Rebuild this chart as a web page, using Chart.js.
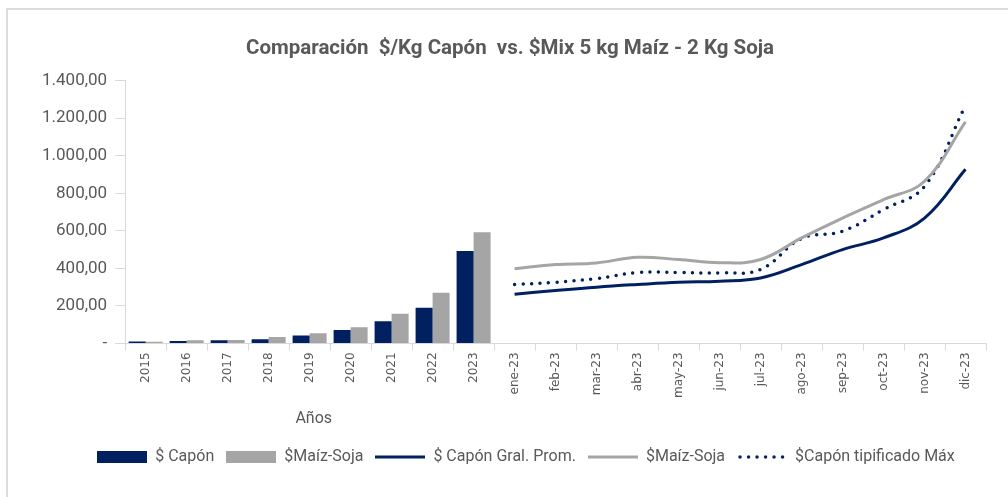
<!DOCTYPE html>
<html>
<head>
<meta charset="utf-8">
<script src="https://cdn.jsdelivr.net/npm/chart.js@4"></script>
<style>
  body { margin: 0; background: #fff; }
  #wrap { position: relative; width: 1008px; height: 497px; }
  #frame { position: absolute; left: 6px; top: 8px; right: 0; bottom: 0;
           border-top: 2px solid #dcdcdc; border-left: 2px solid #dcdcdc; pointer-events: none; }
</style>
</head>
<body>
<div id="wrap">
  <canvas id="chart" width="1008" height="497"></canvas>
  <div id="frame"></div>
</div>
<script>
// categorias: años + meses 2023
const years = ['2015', '2016', '2017', '2018', '2019', '2020', '2021', '2022', '2023'];
const months = ['ene-23', 'feb-23', 'mar-23', 'abr-23', 'may-23', 'jun-23',
                'jul-23', 'ago-23', 'sep-23', 'oct-23', 'nov-23', 'dic-23'];
const categories = years.concat(months);

// barras anuales
const caponAnual = [11, 13, 17, 23, 43, 72, 118, 190, 492];
const maizSojaAnual = [9, 17, 18, 34, 54, 87, 158, 270, 592];

// lineas mensuales
const caponProm = [262, 282, 300, 314, 326, 332, 349, 420, 500, 562, 668, 928];
const maizSojaMes = [398, 420, 429, 459, 447, 430, 447, 562, 668, 766, 864, 1180];
const caponMax = [314, 326, 346, 378, 378, 376, 394, 559, 598, 713, 837, 1268];

const yTicks = [0, 200, 400, 600, 800, 1000, 1200, 1400];

const navy = '#002060';
const gris = '#a5a5a5';
const texto = '#595959';
const fuente = '"Roboto", "Liberation Sans"';

const padYears = new Array(years.length).fill(null);
const padMonths = new Array(months.length).fill(null);

function fmt(v) {
  if (v === 0) return '-';
  const ent = Math.floor(v).toString().replace(/\B(?=(\d{3})+(?!\d))/g, '.');
  return ent + ',00';
}

// simbolos de leyenda (caja para barras, trazo para lineas)
function simbolo(tipo, color) {
  const c = document.createElement('canvas');
  c.width = 50; c.height = 12;
  const g = c.getContext('2d');
  if (tipo === 'caja') {
    g.fillStyle = color;
    g.fillRect(0, 0, 50, 12);
  } else {
    g.strokeStyle = color;
    g.lineWidth = 3;
    if (tipo === 'puntos') {
      g.lineCap = 'round';
      g.lineWidth = 3.5;
      g.setLineDash([0, 8.5]);
      g.beginPath(); g.moveTo(3, 6); g.lineTo(50, 6); g.stroke();
    } else {
      g.beginPath(); g.moveTo(0, 6); g.lineTo(50, 6); g.stroke();
    }
  }
  return c;
}

// "Años" debajo del bloque de años; leyenda algo corrida a la derecha
const aniosLabel = {
  id: 'aniosLabel',
  afterLayout(chart) {
    chart.legend.left += 16;
    chart.legend.right += 16;
  },
  afterDraw(chart) {
    const ctx = chart.ctx;
    const x = chart.scales.x.getPixelForValue(4.1);
    ctx.save();
    ctx.font = '16px ' + fuente;
    ctx.fillStyle = texto;
    ctx.textAlign = 'center';
    ctx.textBaseline = 'middle';
    ctx.fillText('Años', x, 419);
    ctx.restore();
  }
};

new Chart(document.getElementById('chart'), {
  data: {
    labels: categories,
    datasets: [
      { type: 'bar', label: '$ Capón', data: caponAnual.concat(padMonths),
        backgroundColor: navy, pointStyle: simbolo('caja', navy) },
      { type: 'bar', label: '$Maíz-Soja', data: maizSojaAnual.concat(padMonths),
        backgroundColor: gris, pointStyle: simbolo('caja', gris) },
      { type: 'line', label: '$ Capón Gral. Prom.', data: padYears.concat(caponProm),
        borderColor: navy, backgroundColor: navy, borderWidth: 3, pointRadius: 0,
        tension: 0.4, pointStyle: simbolo('linea', navy) },
      { type: 'line', label: '$Maíz-Soja', data: padYears.concat(maizSojaMes),
        borderColor: gris, backgroundColor: gris, borderWidth: 3, pointRadius: 0,
        tension: 0.4, pointStyle: simbolo('linea', gris) },
      { type: 'line', label: '$Capón tipificado Máx', data: padYears.concat(caponMax),
        borderColor: navy, backgroundColor: navy, borderWidth: 3.5, pointRadius: 0,
        borderDash: [0, 8.5], borderCapStyle: 'round',
        tension: 0.4, pointStyle: simbolo('puntos', navy) }
    ]
  },
  options: {
    responsive: false,
    animation: false,
    layout: { padding: { left: 34, right: 22, top: 37, bottom: 22 } },
    datasets: {
      bar: { categoryPercentage: 0.83, barPercentage: 1 }
    },
    plugins: {
      title: {
        display: true,
        text: 'Comparación  $/Kg Capón  vs. $Mix 5 kg Maíz - 2 Kg Soja',
        color: texto,
        font: { family: fuente, size: 20.5, weight: 'bold' },
        padding: { top: 0, bottom: 19 }
      },
      legend: {
        position: 'bottom',
        labels: {
          usePointStyle: true,
          pointStyleWidth: 50,
          boxHeight: 12,
          padding: 12,
          color: texto,
          font: { family: fuente, size: 16 }
        }
      },
      tooltip: { enabled: false }
    },
    scales: {
      x: {
        offset: true,
        grid: { offset: true, drawOnChartArea: false, drawTicks: true, tickLength: 7, color: '#d9d9d9' },
        border: { color: '#d9d9d9' },
        ticks: {
          autoSkip: false, maxRotation: 90, minRotation: 90, padding: 2,
          color: texto, font: { family: '"DejaVu Sans"', size: 12 }
        },
        title: { display: true, text: 'Años', color: 'rgba(0,0,0,0)', font: { size: 15 }, padding: { top: 8, bottom: 11 } }
      },
      y: {
        min: 0, max: 1400,
        afterBuildTicks(scale) { scale.ticks = yTicks.map(v => ({ value: v })); },
        grid: { drawOnChartArea: false, drawTicks: true, tickLength: 10, color: '#d9d9d9' },
        border: { color: '#d9d9d9' },
        ticks: {
          padding: 8, color: texto,
          font: { family: fuente, size: 17 },
          callback: v => fmt(v)
        }
      }
    }
  },
  plugins: [aniosLabel]
});
</script>
</body>
</html>
